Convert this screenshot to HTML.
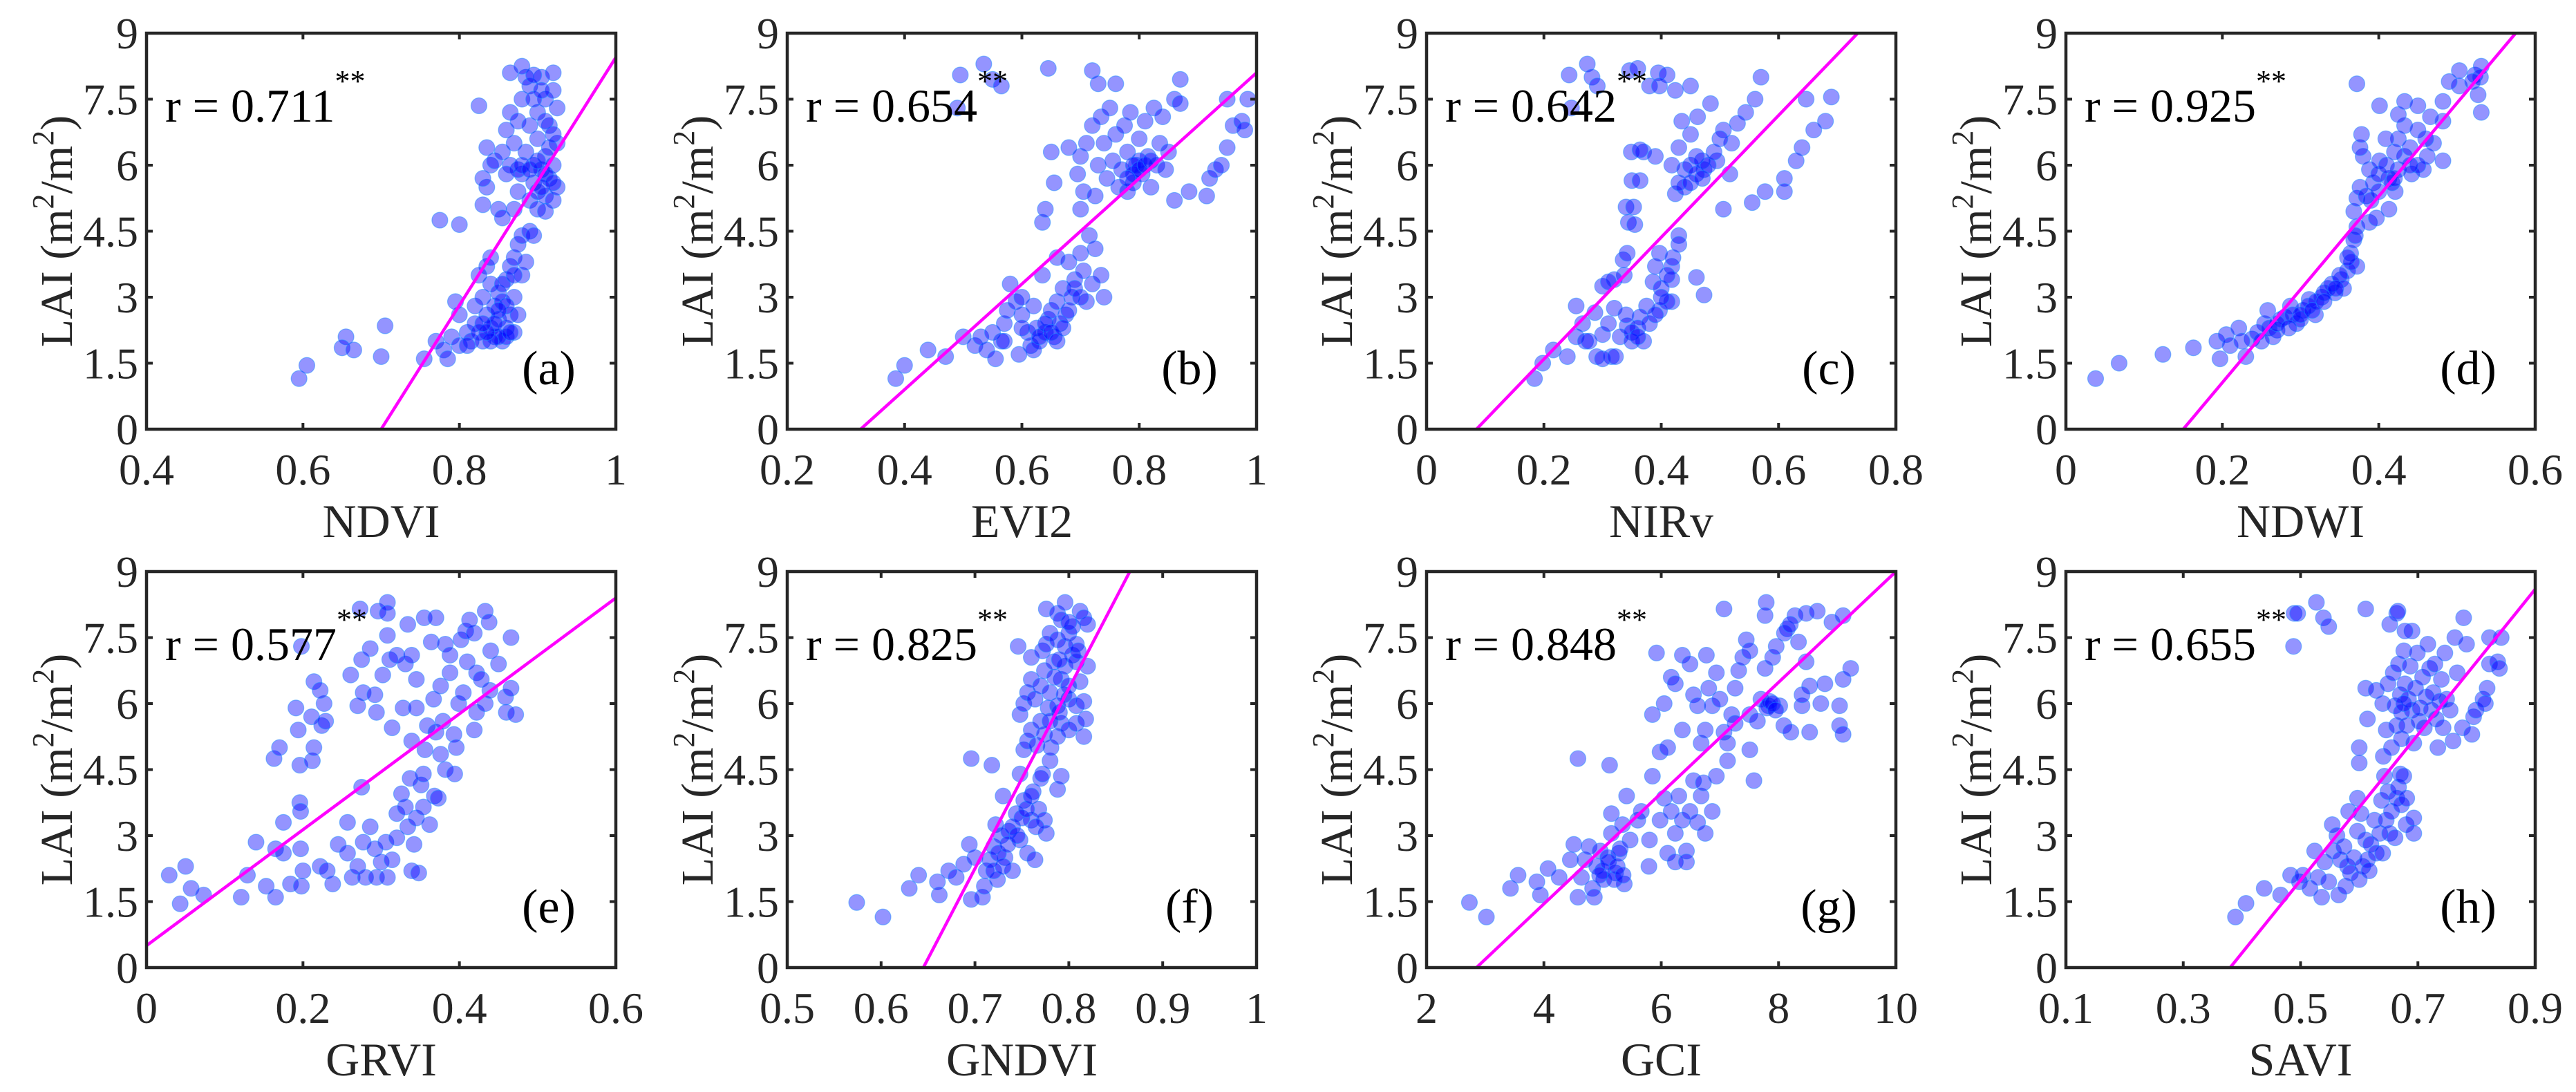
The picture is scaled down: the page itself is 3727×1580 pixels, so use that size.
<!DOCTYPE html>
<html><head><meta charset="utf-8">
<style>
html,body{margin:0;padding:0;background:#fff;}
svg{display:block;}
svg text{font-family:"Liberation Serif","Times New Roman",serif;}
</style></head>
<body>
<svg id="fig" width="3727" height="1580" viewBox="0 0 3727 1580" xmlns="http://www.w3.org/2000/svg"></svg>
<script>
// ---- data ----
const panelIds = ["a","b","c","d","e","f","g","h"];
const xLabels = ["NDVI","EVI2","NIRv","NDWI","GRVI","GNDVI","GCI","SAVI"];
const rValues = ["0.711","0.654","0.642","0.925","0.577","0.825","0.848","0.655"];
const xTicksA = [0.4,0.6,0.8,1];
const xTicksB = [0.2,0.4,0.6,0.8,1];
const xTicksC = [0,0.2,0.4,0.6,0.8];
const xTicksD = [0,0.2,0.4,0.6];
const xTicksE = [0,0.2,0.4,0.6];
const xTicksF = [0.5,0.6,0.7,0.8,0.9,1];
const xTicksG = [2,4,6,8,10];
const xTicksH = [0.1,0.3,0.5,0.7,0.9];
const yTicks = [0,1.5,3,4.5,6,7.5,9];
const yTickLabels = ["0","1.5","3","4.5","6","7.5","9"];
// regression line endpoints [x0,y0,x1,y1]
const fitA = [0.70,0,1.0,8.45];
const fitB = [0.325,0,1.0,8.1];
const fitC = [0.085,0,0.735,9];
const fitD = [0.15,0,0.575,9];
const fitE = [0,0.5,0.6,8.4];
const fitF = [0.645,0,0.865,9];
const fitG = [2.85,0,10,9];
const fitH = [0.38,0,0.9,8.6];

const ptsA = [[0.595,1.15],[0.605,1.45],[0.655,2.1],[0.65,1.85],[0.665,1.8],[0.705,2.35],[0.70,1.65],[0.755,1.6],[0.775,4.75],[0.80,4.65],[0.825,7.35],
[0.77,2.0],[0.78,1.8],[0.785,1.6],[0.79,2.1],[0.80,1.9],[0.80,2.6],[0.795,2.9],[0.81,2.2],[0.815,2.0],[0.82,2.4],[0.82,2.8],[0.825,2.2],[0.83,2.0],[0.83,3.0],[0.835,2.6],[0.84,2.3],[0.84,3.3],[0.845,2.1],[0.845,2.8],[0.85,2.5],[0.85,3.1],[0.855,2.0],[0.855,2.9],[0.86,2.3],[0.86,3.4],[0.865,2.6],[0.865,3.7],[0.87,3.0],[0.87,3.9],[0.875,2.6],[0.875,4.2],[0.88,3.5],[0.88,4.4],[0.885,3.8],[0.89,4.5],[0.895,4.4],[0.835,3.7],[0.825,3.5],[0.84,3.9],[0.86,2.1],[0.85,2.1],[0.81,1.9],[0.87,2.2],
[0.83,5.1],[0.835,5.5],[0.83,5.7],[0.84,6.0],[0.835,6.4],[0.845,6.1],[0.85,5.0],[0.855,4.8],[0.855,6.3],[0.86,6.8],[0.865,7.2],[0.87,6.5],[0.87,5.0],[0.875,5.4],[0.875,7.0],[0.88,5.8],[0.88,7.5],[0.885,6.3],[0.885,8.0],[0.89,5.2],[0.89,6.9],[0.89,7.8],[0.895,5.6],[0.895,6.0],[0.90,5.4],[0.90,6.6],[0.90,7.2],[0.905,5.9],[0.905,8.0],[0.91,5.3],[0.91,6.2],[0.91,7.5],[0.915,5.7],[0.915,6.9],[0.92,5.2],[0.92,6.0],[0.92,7.7],[0.92,8.1],[0.925,5.5],[0.925,6.5],[0.925,7.3],[0.88,8.25],[0.865,8.1],[0.90,5.0],[0.91,4.95],[0.895,8.05],[0.875,5.9],[0.865,6.0],[0.86,5.8],[0.88,6.0],[0.89,5.9],
[0.855,3.3],[0.86,2.8],[0.865,2.2],[0.87,3.5],[0.85,2.7],[0.845,2.4],[0.84,2.0],[0.835,2.2],[0.83,2.4],[0.91,5.8],[0.905,5.5],[0.9,6.1],[0.915,6.4],[0.92,6.7],[0.91,7.0],[0.895,7.5],[0.905,7.7],[0.92,5.6]];

const ptsB = [[0.385,1.15],[0.40,1.45],[0.44,1.8],[0.47,1.65],[0.50,2.1],[0.495,8.05],[0.535,8.3],[0.55,7.95],[0.565,7.8],[0.49,7.3],[0.645,8.2],[0.72,8.15],[0.73,7.85],[0.76,7.85],[0.87,7.95],
[0.52,1.9],[0.53,2.1],[0.54,1.8],[0.55,2.2],[0.555,1.6],[0.565,2.0],[0.57,2.4],[0.575,2.7],[0.58,3.3],[0.59,2.9],[0.595,1.7],[0.60,2.6],[0.61,2.2],[0.615,1.9],[0.62,2.8],[0.625,2.3],[0.63,2.0],[0.635,3.5],[0.64,2.2],[0.645,2.5],[0.65,2.7],[0.655,2.1],[0.66,2.9],[0.665,2.4],[0.67,3.2],[0.675,2.6],[0.68,3.8],[0.685,3.0],[0.69,3.4],[0.70,4.0],[0.705,3.6],[0.71,2.9],[0.715,4.4],[0.72,3.3],[0.725,4.1],[0.735,3.5],[0.74,3.0],[0.60,3.0],[0.635,4.7],[0.64,5.0],[0.70,5.0],[0.60,2.3],[0.62,1.8],[0.57,2.0],[0.66,3.9],
[0.65,6.3],[0.655,5.6],[0.68,6.4],[0.695,5.8],[0.70,6.2],[0.705,5.4],[0.71,6.5],[0.72,6.9],[0.725,5.3],[0.73,6.0],[0.735,7.1],[0.74,6.5],[0.745,5.7],[0.75,7.3],[0.755,6.1],[0.76,6.7],[0.765,5.5],[0.77,5.9],[0.775,6.9],[0.78,6.3],[0.785,7.2],[0.79,5.6],[0.795,6.0],[0.80,6.6],[0.805,5.8],[0.81,7.0],[0.815,6.2],[0.82,5.5],[0.825,7.3],[0.83,6.0],[0.835,6.5],[0.84,7.1],[0.845,5.9],[0.85,6.3],[0.86,7.5],[0.87,7.4],[0.86,5.2],[0.885,5.4],[0.915,5.3],[0.92,5.7],[0.93,5.9],[0.94,6.0],[0.95,6.4],[0.96,6.9],[0.975,7.0],[0.98,6.8],[0.985,7.5],[0.95,7.5],[0.78,5.4],[0.80,6.1],[0.79,6.0],
[0.63,2.1],[0.64,2.4],[0.65,2.2],[0.66,2.0],[0.67,2.3],[0.68,2.7],[0.69,3.2],[0.70,3.0],[0.79,5.8],[0.80,5.9],[0.81,6.0],[0.78,5.7],[0.82,6.1]];

const ptsC = [[0.184,1.15],[0.198,1.5],[0.216,1.8],[0.24,1.65],[0.243,8.05],[0.274,8.3],[0.282,8.0],[0.291,7.8],[0.247,7.3],[0.255,2.1],[0.271,2.0],[0.29,1.65],[0.3,3.25],[0.315,1.65],[0.287,2.65],[0.335,3.85],[0.337,3.5],[0.34,5.05],[0.344,4.7],[0.35,5.65],[0.349,6.3],[0.37,6.3],[0.346,8.15],[0.395,8.1],[0.38,7.8],
[0.36,8.2],[0.41,8.05],[0.397,7.8],[0.424,7.7],[0.45,7.8],[0.57,8.0],[0.647,7.5],[0.69,7.55],[0.68,7.0],[0.66,6.8],[0.64,6.4],[0.63,6.1],[0.61,5.7],[0.61,5.4],[0.577,5.4],[0.555,5.15],[0.56,7.5],[0.544,7.2],[0.53,6.95],[0.506,6.8],[0.484,7.4],[0.462,7.1],[0.435,7.0],[0.43,6.4],[0.45,6.7],[0.418,6.0],[0.473,5.9],[0.495,6.1],[0.517,5.8],[0.506,5.0],[0.424,5.35],[0.364,6.35],[0.39,6.2],[0.364,5.65],[0.353,5.05],[0.355,4.65],[0.43,4.4],[0.397,4.0],[0.418,3.7],[0.342,4.0],[0.32,3.4],[0.31,3.35],[0.418,3.4],[0.46,3.45],[0.473,3.05],[0.386,3.35],[0.375,2.8],[0.364,2.55],[0.342,2.35],[0.33,2.1],[0.3,2.15],[0.277,2.0],[0.3,1.6],[0.322,1.65],[0.266,2.4],[0.32,2.75],[0.255,2.8],[0.418,2.9],[0.397,2.7],[0.36,2.3],
[0.44,5.9],[0.45,6.0],[0.46,5.8],[0.47,6.1],[0.48,6.0],[0.44,5.5],[0.43,5.6],[0.39,3.7],[0.40,3.2],[0.41,2.9],[0.35,2.2],[0.37,2.0],[0.34,2.6],[0.31,2.4],[0.52,6.5],[0.50,6.6],
[0.38,2.4],[0.39,2.6],[0.40,3.0],[0.41,3.5],[0.42,3.9],[0.43,4.2],[0.35,2.0],[0.36,2.1],[0.45,5.6],[0.46,6.2],[0.47,5.7],[0.49,6.3]];

const ptsD = [[0.038,1.15],[0.068,1.5],[0.124,1.7],[0.163,1.85],[0.197,1.6],[0.193,2.0],[0.205,2.15],[0.221,2.3],[0.23,1.65],[0.238,2.05],[0.254,2.4],[0.258,2.7],[0.27,2.25],[0.28,2.55],[0.287,2.8],[0.295,2.4],[0.303,2.7],[0.311,2.95],[0.319,2.6],[0.327,3.0],[0.335,3.2],[0.344,3.1],[0.352,3.4],[0.36,3.6],[0.364,4.0],[0.368,4.3],[0.372,4.6],[0.388,4.7],[0.368,4.95],[0.372,5.25],[0.376,5.5],[0.384,5.3],[0.393,5.6],[0.388,5.9],[0.38,6.2],[0.376,6.4],[0.378,6.7],[0.401,6.1],[0.413,5.7],[0.421,5.4],[0.413,5.0],[0.425,5.9],[0.433,6.2],[0.442,5.8],[0.457,5.9],[0.462,6.2],[0.425,6.6],[0.409,6.6],[0.433,6.9],[0.45,6.8],[0.47,6.5],[0.466,7.1],[0.482,7.0],[0.425,7.15],[0.401,7.35],[0.433,7.45],[0.45,7.35],[0.482,7.45],[0.503,7.8],[0.49,7.9],[0.503,8.15],[0.523,8.05],[0.531,8.25],[0.527,7.6],[0.531,7.2],[0.372,7.85],[0.482,6.1],[0.417,5.6],[0.397,4.8],[0.372,3.7],
[0.21,1.9],[0.225,2.0],[0.245,2.2],[0.26,2.3],[0.265,2.1],[0.275,2.5],[0.29,2.6],[0.30,2.5],[0.31,2.8],[0.32,2.9],[0.33,3.1],[0.34,3.3],[0.35,3.5],[0.355,3.2],[0.365,3.8],[0.40,5.8],[0.41,6.0],[0.42,6.3],[0.44,6.4],[0.45,6.0],[0.46,6.6],[0.53,8.0],[0.52,7.9],
[0.25,2.0],[0.27,2.4],[0.285,2.3],[0.30,2.6],[0.315,2.7],[0.33,2.9],[0.345,3.2],[0.36,3.9],[0.37,4.4],[0.39,5.2],[0.40,5.4],[0.42,5.7],[0.44,6.0]];

const ptsE = [[0.029,2.1],[0.05,2.3],[0.043,1.45],[0.057,1.8],[0.073,1.65],[0.121,1.6],[0.129,2.1],[0.14,2.85],[0.153,1.85],[0.165,1.6],[0.165,2.7],[0.175,2.6],[0.175,3.3],[0.196,3.75],[0.197,3.55],[0.197,2.7],[0.2,2.2],[0.184,1.9],[0.198,1.85],[0.163,4.75],[0.17,5.0],[0.196,4.6],[0.194,5.4],[0.191,5.9],[0.212,4.7],[0.214,5.0],[0.211,5.7],[0.224,5.5],[0.227,6.0],[0.214,6.5],[0.222,6.3],[0.229,5.6],[0.198,7.3],[0.222,2.3],[0.231,2.2],[0.238,1.9],[0.245,2.8],[0.257,3.3],[0.263,2.05],[0.257,2.6],[0.27,2.3],[0.277,2.85],[0.28,2.05],[0.286,3.2],[0.292,2.7],[0.294,2.05],[0.3,2.4],[0.306,2.85],[0.308,2.05],[0.314,2.45],[0.32,2.95],[0.32,3.5],[0.326,3.95],[0.331,3.65],[0.334,3.2],[0.339,2.2],[0.342,2.8],[0.345,3.4],[0.348,2.15],[0.351,4.15],[0.354,3.65],[0.362,3.25],[0.368,3.9],[0.373,3.85],[0.382,4.5],[0.394,4.4],[0.275,4.1],[0.354,4.4],[0.337,4.3],
[0.261,6.65],[0.275,7.0],[0.286,7.25],[0.277,6.25],[0.27,5.95],[0.292,6.2],[0.296,8.1],[0.308,8.3],[0.308,8.05],[0.273,8.15],[0.308,7.55],[0.302,6.65],[0.311,7.0],[0.32,7.1],[0.331,6.9],[0.334,7.8],[0.339,7.1],[0.345,6.55],[0.294,5.8],[0.314,5.45],[0.328,5.9],[0.339,5.15],[0.345,5.9],[0.355,7.95],[0.37,7.95],[0.364,7.4],[0.382,7.35],[0.388,7.1],[0.388,6.7],[0.376,6.4],[0.367,6.1],[0.359,5.5],[0.37,5.35],[0.379,5.6],[0.393,5.3],[0.396,5.0],[0.399,6.0],[0.405,6.25],[0.41,6.95],[0.402,7.45],[0.408,7.65],[0.419,7.6],[0.413,7.9],[0.422,6.7],[0.428,6.55],[0.419,5.4],[0.422,5.8],[0.433,6.0],[0.439,6.3],[0.44,7.2],[0.433,8.1],[0.438,7.85],[0.45,6.9],[0.459,6.15],[0.466,7.5],[0.46,5.8],[0.466,6.35],[0.472,5.75],[0.376,4.85],[0.356,4.95]];

const ptsF = [[0.574,1.48],[0.602,1.15],[0.63,1.8],[0.64,2.1],[0.66,1.95],[0.662,1.65],[0.672,2.2],[0.68,2.05],[0.688,2.35],[0.694,2.8],[0.696,1.55],[0.7,2.5],[0.708,1.6],[0.71,1.85],[0.712,2.2],[0.716,2.45],[0.72,2.75],[0.722,3.25],[0.724,2.0],[0.728,3.0],[0.73,3.9],[0.732,2.5],[0.736,3.1],[0.74,2.2],[0.744,3.5],[0.748,2.9],[0.752,3.8],[0.756,2.6],[0.76,3.35],[0.762,4.0],[0.764,2.45],[0.768,3.6],[0.77,4.3],[0.772,4.4],[0.774,3.35],[0.776,3.05],[0.78,4.7],[0.788,4.05],[0.792,4.35],[0.696,4.75],[0.718,4.6],[0.748,4.4],[0.752,4.95],[0.756,5.15],[0.76,5.4],[0.766,5.05],[0.77,5.6],[0.774,5.3],[0.778,5.9],[0.781,5.0],[0.788,5.25],[0.792,5.55],[0.8,5.4],[0.808,5.55],[0.816,5.25],[0.818,5.65],[0.748,5.75],[0.752,6.0],[0.756,6.25],[0.76,6.55],[0.764,6.1],[0.77,6.4],[0.774,6.75],[0.78,6.25],[0.784,6.95],[0.788,5.95],[0.792,6.55],[0.796,6.85],[0.8,6.1],[0.804,7.1],[0.808,5.95],[0.812,6.5],[0.816,6.05],[0.82,6.85],[0.746,7.3],[0.76,7.05],[0.772,7.2],[0.776,7.35],[0.78,7.6],[0.788,7.45],[0.796,7.3],[0.8,7.6],[0.804,7.75],[0.808,7.35],[0.776,8.15],[0.788,8.05],[0.796,8.3],[0.792,7.9],[0.812,8.1],[0.816,7.95],[0.82,7.8],[0.8,7.85],[0.808,6.95],
[0.72,2.2],[0.725,2.6],[0.73,2.3],[0.735,2.8],[0.74,3.2],[0.745,3.0],[0.75,3.4],[0.755,3.6],[0.76,3.9],[0.765,3.2],[0.78,5.6],[0.79,5.8],[0.795,6.2],[0.8,6.4],[0.785,6.6],[0.79,7.0],[0.81,7.2]];

const ptsG = [[2.73,1.48],[3.02,1.15],[3.43,1.8],[3.56,2.1],[3.88,1.95],[3.94,1.65],[4.07,2.25],[4.26,2.05],[4.45,2.45],[4.51,2.8],[4.58,1.6],[4.64,2.05],[4.7,2.45],[4.77,2.75],[4.83,1.8],[4.86,1.6],[4.9,2.3],[4.96,2.65],[5.02,2.0],[5.09,2.5],[5.15,3.05],[5.15,3.5],[5.22,2.15],[5.28,2.6],[5.34,3.25],[5.37,1.9],[5.41,3.9],[5.47,2.9],[5.6,3.35],[5.66,3.55],[5.79,2.3],[5.8,2.9],[5.85,4.35],[5.98,3.35],[6.05,3.85],[6.11,2.6],[6.17,3.55],[6.24,3.05],[6.24,2.4],[6.3,3.9],[6.36,3.35],[6.43,2.65],[6.43,2.4],[6.49,3.55],[6.55,4.25],[6.62,3.3],[6.68,3.9],[6.72,4.2],[6.75,3.05],[6.87,3.55],[6.94,4.35],[4.58,4.75],[5.12,4.6],[5.98,4.9],[6.11,5.0],[5.85,5.75],[5.92,7.15],[6.05,6.0],[6.17,6.6],[6.24,6.45],[6.36,5.4],[6.36,7.1],[6.49,6.9],[6.55,6.2],[6.62,5.95],[6.68,5.1],[6.75,5.4],[6.77,7.1],[6.81,6.35],[6.87,5.95],[6.94,6.7],[7.0,6.1],[7.07,5.35],[7.07,8.15],[7.13,4.7],[7.13,5.1],[7.2,5.75],[7.26,6.35],[7.32,6.75],[7.39,7.05],[7.45,7.45],[7.51,5.75],[7.51,7.2],[7.58,4.25],[7.64,5.6],[7.7,6.1],[7.77,6.8],[7.79,8.3],[7.77,8.0],[7.83,5.95],[7.9,7.05],[7.96,7.3],[8.02,5.95],[8.09,5.5],[8.15,7.7],[8.21,5.35],[8.28,8.0],[8.34,7.4],[8.4,5.95],[8.47,6.95],[8.47,8.05],[8.53,6.4],[8.53,5.35],[8.66,8.1],[8.72,6.0],[8.79,6.45],[8.91,7.85],[9.04,5.95],[9.04,5.5],[9.1,6.55],[9.1,5.3],[9.1,8.0],[9.23,6.8],[8.4,6.2],[7.26,5.55],[7.51,4.95],
[5.0,2.2],[5.1,2.4],[5.2,2.0],[5.25,2.3],[5.3,2.7],[5.35,2.1],[4.95,2.1],[7.8,5.9],[7.85,6.05],[7.9,6.0],[7.95,5.85],[8.1,7.6],[8.2,7.8]];

const ptsH = [[0.389,1.15],[0.407,1.46],[0.438,1.8],[0.466,1.65],[0.483,2.1],[0.498,1.95],[0.504,2.1],[0.516,1.8],[0.524,2.65],[0.53,2.05],[0.536,1.6],[0.541,2.4],[0.548,1.95],[0.554,3.25],[0.556,2.65],[0.562,3.0],[0.565,1.65],[0.568,2.45],[0.574,2.75],[0.577,1.85],[0.58,2.3],[0.582,3.55],[0.585,2.15],[0.591,2.5],[0.597,3.1],[0.597,3.85],[0.6,2.0],[0.603,3.5],[0.606,2.3],[0.611,2.9],[0.614,2.45],[0.617,2.2],[0.62,2.8],[0.626,3.35],[0.629,2.6],[0.635,3.05],[0.638,3.8],[0.64,2.6],[0.643,4.35],[0.646,3.35],[0.649,4.0],[0.652,3.05],[0.655,3.55],[0.661,2.95],[0.664,3.85],[0.667,4.1],[0.67,4.4],[0.672,3.7],[0.676,4.35],[0.68,3.25],[0.681,3.85],[0.693,3.4],[0.693,3.05],[0.6,5.0],[0.6,4.65],[0.641,4.8],[0.614,5.65],[0.611,6.35],[0.629,6.3],[0.64,6.0],[0.646,5.4],[0.649,6.45],[0.655,5.0],[0.658,6.7],[0.661,5.95],[0.664,5.5],[0.667,6.9],[0.67,6.2],[0.672,5.2],[0.672,5.8],[0.676,7.2],[0.678,6.45],[0.681,5.5],[0.684,6.1],[0.687,6.85],[0.69,5.85],[0.69,7.65],[0.693,5.1],[0.696,6.35],[0.699,7.15],[0.702,5.6],[0.704,5.9],[0.708,6.6],[0.711,5.45],[0.714,6.15],[0.717,7.35],[0.72,6.8],[0.723,5.85],[0.726,6.25],[0.729,6.9],[0.731,5.65],[0.734,5.0],[0.737,6.05],[0.74,6.55],[0.743,5.45],[0.746,7.15],[0.749,6.1],[0.755,5.85],[0.76,5.15],[0.763,7.5],[0.767,6.7],[0.776,5.45],[0.778,7.95],[0.783,7.35],[0.792,5.3],[0.795,5.7],[0.799,5.85],[0.811,6.1],[0.818,6.35],[0.822,7.5],[0.822,6.9],[0.836,6.95],[0.839,6.8],[0.842,7.5],[0.815,6.0],[0.488,7.3],[0.489,8.05],[0.495,8.05],[0.527,8.3],[0.539,7.95],[0.548,7.75],[0.611,8.15],[0.652,7.8],[0.664,8.05],[0.666,8.1],[0.678,7.65],[0.676,6.0]];

const allTicks = [xTicksA,xTicksB,xTicksC,xTicksD,xTicksE,xTicksF,xTicksG,xTicksH];
const allFits = [fitA,fitB,fitC,fitD,fitE,fitF,fitG,fitH];
const allPts = [ptsA,ptsB,ptsC,ptsD,ptsE,ptsF,ptsG,ptsH];

// ---- layout ----
const NS = "http://www.w3.org/2000/svg";
const svg = document.getElementById("fig");
const lefts = [212,1139,2064,2989];
const tops = [48,827];
const W = 679, H = 573;
const FONT = '"Liberation Serif","Times New Roman",serif';

function mk(tag, attrs, parent){
  const e = document.createElementNS(NS, tag);
  for (const k in attrs) e.setAttribute(k, attrs[k]);
  if (tag === "text") e.setAttribute("font-family", FONT);
  (parent||svg).appendChild(e);
  return e;
}

panelIds.forEach(function(id, i){
  const L = lefts[i%4], T = tops[Math.floor(i/4)];
  const ticks = allTicks[i];
  const xmin = ticks[0], xmax = ticks[ticks.length-1];
  const xs = v => L + (v - xmin)/(xmax - xmin)*W;
  const ys = v => T + H - v/9*H;

  const g = mk("g", {});
  
  

  const clipId = "clip" + id;
  const cp = mk("clipPath", {id: clipId}, g);
  mk("rect", {x:L, y:T, width:W, height:H}, cp);

  const pg = mk("g", {"clip-path":"url(#"+clipId+")"}, g);
  
  
  allPts[i].forEach(function(p){
    const c = mk("circle", {cx: xs(p[0]), cy: ys(p[1]), r: 11.5, fill:"#0000ff", "fill-opacity":0.42, stroke:"#1e90ff", "stroke-opacity":0.5, "stroke-width":1.2}, pg);
    
    
  });

  const f = allFits[i];
  const ln = mk("line", {x1: xs(f[0]), y1: ys(f[1]), x2: xs(f[2]), y2: ys(f[3]), stroke:"#ff00ff", "stroke-width":4.5, "clip-path":"url(#"+clipId+")"}, g);
  
  

  yTicks.forEach(function(v, k){
    const y = ys(v);
    if (k>0 && k<yTicks.length-1){
      mk("line", {x1:L, y1:y, x2:L+9, y2:y, stroke:"#262626", "stroke-width":4}, g);
      mk("line", {x1:L+W, y1:y, x2:L+W-9, y2:y, stroke:"#262626", "stroke-width":4}, g);
    }
    const t = mk("text", {x:L-12, y:y+22, "text-anchor":"end", "font-size":64, fill:"#262626"}, g);
    t.textContent = yTickLabels[k];
    
    
  });
  ticks.forEach(function(v, k){
    const x = xs(v);
    if (k>0 && k<ticks.length-1){
      mk("line", {x1:x, y1:T+H, x2:x, y2:T+H-9, stroke:"#262626", "stroke-width":4}, g);
      mk("line", {x1:x, y1:T, x2:x, y2:T+9, stroke:"#262626", "stroke-width":4}, g);
    }
    const t = mk("text", {x:x, y:T+H+80, "text-anchor":"middle", "font-size":64, fill:"#262626"}, g);
    t.textContent = String(v);
    
    
  });

  const fr = mk("rect", {x:L, y:T, width:W, height:H, fill:"none", stroke:"#262626", "stroke-width":4.5}, g);
  
  

  const xl = mk("text", {x:L+W/2, y:T+H+156, "text-anchor":"middle", "font-size":68, fill:"#262626"}, g);
  xl.textContent = xLabels[i];
  
  

  const yl = mk("text", {x:0, y:0, "text-anchor":"middle", "font-size":66, fill:"#262626", transform:"translate("+(L-108)+","+(T+H/2)+") rotate(-90)"}, g);
  
  
  const s1 = mk("tspan", {}, yl); s1.textContent = "LAI (m";
  const s2 = mk("tspan", {dy:-27, "font-size":44}, yl); s2.textContent = "2";
  const s3 = mk("tspan", {dy:27}, yl); s3.textContent = "/m";
  const s4 = mk("tspan", {dy:-27, "font-size":44}, yl); s4.textContent = "2";
  const s5 = mk("tspan", {dy:27}, yl); s5.textContent = ")";

  const rt = mk("text", {x:L+27, y:T+128, "font-size":68, fill:"#000"}, g);
  
  
  const r1 = mk("tspan", {}, rt); r1.textContent = "r = " + rValues[i];
  const r2 = mk("tspan", {dy:-44, "font-size":44}, rt); r2.textContent = "**";

  const pl = mk("text", {x:L+582, y:T+508, "text-anchor":"middle", "font-size":70, fill:"#000"}, g);
  pl.textContent = "(" + id + ")";
  
  
});
</script>
</body></html>
